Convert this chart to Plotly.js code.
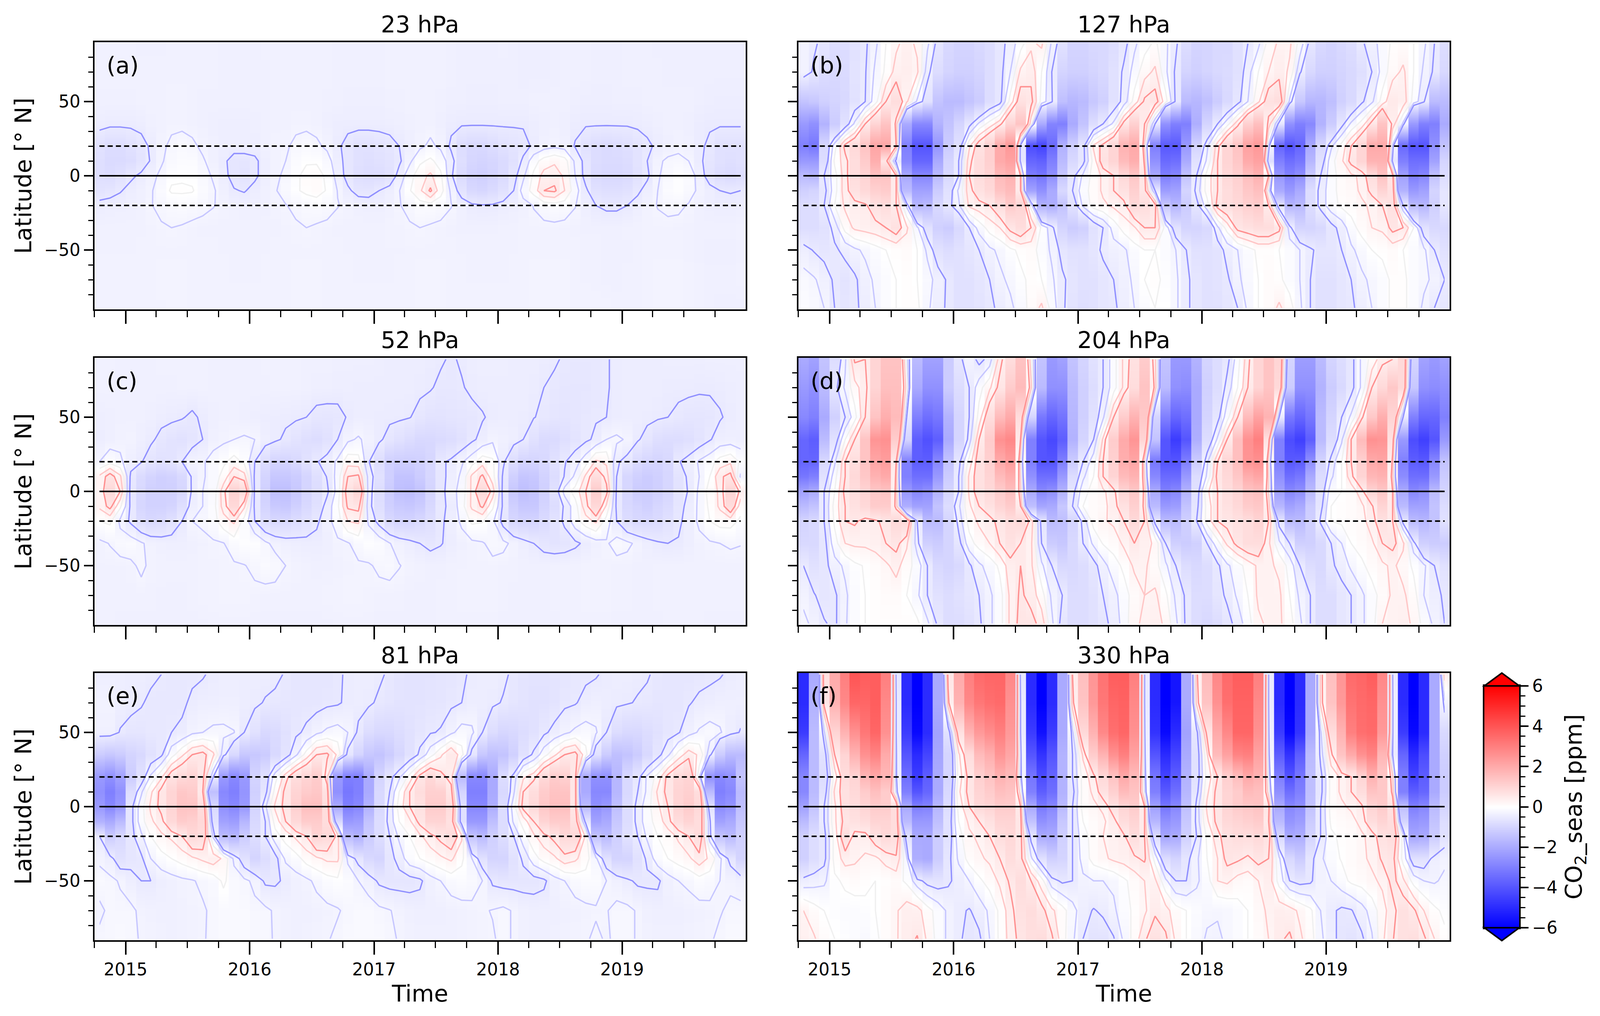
<!DOCTYPE html>
<html><head><meta charset="utf-8">
<script src="https://cdn.plot.ly/plotly-3.0.0.min.js"></script>
<style>html,body{margin:0;padding:0;background:#fff;overflow:hidden}</style></head>
<body><div id="p"></div>
<script>
const months=['2014-10-16','2014-11-16','2014-12-16','2015-01-16','2015-02-16','2015-03-16','2015-04-16','2015-05-16','2015-06-16','2015-07-16','2015-08-16','2015-09-16','2015-10-16','2015-11-16','2015-12-16','2016-01-16','2016-02-16','2016-03-16','2016-04-16','2016-05-16','2016-06-16','2016-07-16','2016-08-16','2016-09-16','2016-10-16','2016-11-16','2016-12-16','2017-01-16','2017-02-16','2017-03-16','2017-04-16','2017-05-16','2017-06-16','2017-07-16','2017-08-16','2017-09-16','2017-10-16','2017-11-16','2017-12-16','2018-01-16','2018-02-16','2018-03-16','2018-04-16','2018-05-16','2018-06-16','2018-07-16','2018-08-16','2018-09-16','2018-10-16','2018-11-16','2018-12-16','2019-01-16','2019-02-16','2019-03-16','2019-04-16','2019-05-16','2019-06-16','2019-07-16','2019-08-16','2019-09-16','2019-10-16','2019-11-16','2019-12-16'];
const latitudes=[89,70,50,35,20,10,0,-10,-20,-35,-50,-70,-89];
const panelTitles=['23 hPa','127 hPa','52 hPa','204 hPa','81 hPa','330 hPa'];
const panelTags=['(a)','(b)','(c)','(d)','(e)','(f)'];
const colorbarLevels=[-6,-5,-4,-3,-2,-1,0,1,2,3,4,5,6];
const hPa23=[
[-.33,-.33,-.33,-.33,-.35,-.35,-.35,-.33,-.33,-.33,-.33,-.33,-.35,-.35,-.35,-.35,-.33,-.33,-.33,-.33,-.33,-.33,-.33,-.35,-.35,-.35,-.35,-.35,-.33,-.33,-.33,-.33,-.33,-.33,-.35,-.38,-.38,-.38,-.38,-.35,-.38,-.4,-.4,-.4,-.38,-.35,-.35,-.35,-.38,-.38,-.38,-.35,-.35,-.35,-.38,-.38,-.38,-.38,-.38,-.38,-.38,-.38,-.38],
[-.33,-.33,-.33,-.33,-.33,-.33,-.33,-.33,-.33,-.33,-.33,-.33,-.35,-.35,-.35,-.35,-.35,-.33,-.33,-.33,-.33,-.33,-.33,-.35,-.35,-.35,-.35,-.35,-.33,-.33,-.33,-.33,-.33,-.33,-.35,-.38,-.38,-.38,-.38,-.38,-.38,-.4,-.4,-.4,-.38,-.35,-.35,-.35,-.38,-.38,-.38,-.35,-.35,-.35,-.35,-.38,-.38,-.38,-.38,-.38,-.38,-.38,-.38],
[-.35,-.35,-.35,-.35,-.33,-.33,-.33,-.3,-.3,-.33,-.35,-.35,-.35,-.35,-.35,-.35,-.35,-.33,-.33,-.33,-.33,-.33,-.35,-.35,-.38,-.38,-.38,-.38,-.35,-.35,-.33,-.33,-.33,-.35,-.38,-.38,-.4,-.4,-.4,-.38,-.38,-.38,-.35,-.35,-.35,-.35,-.38,-.4,-.4,-.4,-.38,-.38,-.38,-.35,-.35,-.35,-.35,-.35,-.38,-.4,-.42,-.42,-.42],
[-.42,-.45,-.45,-.45,-.42,-.35,-.33,-.3,-.3,-.33,-.35,-.38,-.4,-.4,-.4,-.38,-.35,-.33,-.33,-.3,-.3,-.33,-.38,-.42,-.42,-.42,-.42,-.42,-.4,-.38,-.35,-.33,-.33,-.38,-.44,-.47,-.47,-.47,-.47,-.47,-.47,-.47,-.42,-.38,-.35,-.38,-.44,-.47,-.47,-.47,-.47,-.47,-.45,-.42,-.38,-.35,-.35,-.38,-.44,-.47,-.47,-.47,-.47],
[-.7,-.8,-.8,-.7,-.6,-.46,-.3,-.2,-.15,-.2,-.3,-.35,-.4,-.4,-.4,-.4,-.35,-.3,-.28,-.2,-.15,-.2,-.3,-.45,-.6,-.7,-.7,-.65,-.6,-.5,-.4,-.3,-.2,-.3,-.55,-.8,-.9,-.9,-.8,-.7,-.65,-.6,-.45,-.35,-.3,-.35,-.52,-.7,-.8,-.85,-.8,-.75,-.65,-.55,-.45,-.38,-.32,-.35,-.45,-.55,-.7,-.7,-.7],
[-.75,-.85,-.85,-.8,-.65,-.48,-.28,-.15,-.1,-.1,-.22,-.35,-.45,-.6,-.6,-.55,-.4,-.3,-.25,-.1,-.03,-.03,-.15,-.4,-.6,-.7,-.75,-.7,-.65,-.55,-.3,-.05,.05,-.1,-.4,-.75,-.95,-1,-.95,-.85,-.7,-.45,-.1,.1,.2,.1,-.3,-.6,-.8,-.85,-.85,-.8,-.65,-.5,-.3,-.2,-.18,-.25,-.45,-.6,-.7,-.75,-.7],
[-.75,-.8,-.7,-.55,-.45,-.32,-.2,-.05,-.03,-.05,-.15,-.28,-.42,-.6,-.65,-.55,-.4,-.3,-.2,-.05,.08,.1,-.05,-.35,-.6,-.75,-.8,-.8,-.7,-.4,-.1,.15,.3,.05,-.45,-.85,-1.05,-1.1,-1,-.85,-.6,-.3,.05,.35,.4,.2,-.25,-.6,-.85,-.9,-.9,-.85,-.7,-.55,-.28,-.15,-.05,-.1,-.35,-.65,-.8,-.85,-.8],
[-.65,-.6,-.52,-.42,-.35,-.28,-.12,.03,.03,.02,-.12,-.22,-.36,-.48,-.52,-.42,-.35,-.27,-.15,-.03,.05,.1,-.02,-.26,-.45,-.6,-.6,-.5,-.4,-.26,-.02,.2,.55,.1,-.3,-.65,-.9,-.95,-.85,-.7,-.5,-.15,.1,.5,.55,.25,-.15,-.45,-.7,-.75,-.75,-.7,-.55,-.4,-.25,-.1,-.05,-.15,-.3,-.4,-.5,-.52,-.5],
[-.42,-.4,-.38,-.36,-.34,-.26,-.2,-.15,-.12,-.15,-.18,-.24,-.3,-.34,-.36,-.36,-.35,-.3,-.26,-.2,-.14,-.12,-.16,-.24,-.3,-.35,-.38,-.38,-.34,-.26,-.2,-.1,-.1,-.15,-.24,-.35,-.45,-.48,-.47,-.42,-.38,-.34,-.24,-.15,-.1,-.12,-.24,-.38,-.5,-.55,-.55,-.5,-.4,-.32,-.24,-.2,-.2,-.27,-.35,-.4,-.42,-.42,-.4],
[-.33,-.33,-.33,-.33,-.33,-.3,-.27,-.25,-.27,-.3,-.33,-.33,-.33,-.33,-.33,-.33,-.33,-.33,-.3,-.28,-.25,-.28,-.3,-.33,-.33,-.33,-.33,-.33,-.3,-.3,-.27,-.25,-.28,-.3,-.33,-.35,-.35,-.35,-.35,-.33,-.33,-.3,-.3,-.3,-.3,-.32,-.33,-.35,-.35,-.35,-.35,-.33,-.32,-.3,-.3,-.3,-.32,-.33,-.35,-.35,-.35,-.35,-.33],
[-.32,-.32,-.32,-.32,-.3,-.3,-.3,-.3,-.3,-.3,-.3,-.3,-.32,-.32,-.32,-.32,-.32,-.3,-.3,-.3,-.3,-.3,-.3,-.3,-.32,-.32,-.32,-.32,-.32,-.32,-.3,-.3,-.3,-.3,-.3,-.32,-.32,-.32,-.32,-.32,-.32,-.3,-.3,-.3,-.3,-.3,-.3,-.32,-.32,-.35,-.35,-.35,-.32,-.3,-.3,-.3,-.3,-.33,-.35,-.38,-.38,-.38,-.35],
[-.3,-.3,-.3,-.3,-.3,-.3,-.28,-.28,-.28,-.3,-.3,-.3,-.3,-.32,-.32,-.32,-.3,-.3,-.3,-.28,-.28,-.28,-.3,-.3,-.3,-.32,-.32,-.32,-.32,-.3,-.3,-.28,-.28,-.28,-.3,-.3,-.32,-.32,-.32,-.32,-.3,-.3,-.28,-.28,-.28,-.28,-.3,-.32,-.33,-.35,-.35,-.33,-.32,-.3,-.28,-.28,-.28,-.3,-.33,-.35,-.35,-.35,-.33],
[-.3,-.3,-.3,-.3,-.3,-.3,-.3,-.28,-.28,-.3,-.3,-.3,-.3,-.3,-.3,-.3,-.3,-.3,-.3,-.28,-.28,-.28,-.3,-.3,-.3,-.3,-.3,-.3,-.3,-.3,-.3,-.28,-.28,-.28,-.3,-.3,-.3,-.3,-.3,-.3,-.3,-.3,-.28,-.28,-.28,-.28,-.3,-.3,-.3,-.3,-.33,-.33,-.33,-.3,-.28,-.28,-.28,-.3,-.33,-.35,-.38,-.38,-.38]];
const hPa127=[
[-.3,-.45,-.6,-.8,-.8,-.7,-.55,-.3,0,.2,.35,.2,-.2,-.6,-.9,-1,-1,-.9,-.8,-.6,-.4,-.1,.2,.3,-.3,-.7,-1,-1,-.9,-.9,-.8,-.6,-.3,-.1,.05,-.2,-.45,-.8,-1,-1,-.9,-.9,-.7,-.5,-.3,.1,.3,.3,-.1,-.6,-.9,-1,-.9,-.8,-.55,-.35,-.15,.05,.1,0,-.2,-.5,-.8],
[-.3,-.55,-.8,-.9,-.85,-.65,-.52,-.2,.05,.35,.4,.3,-.4,-.8,-1,-1.1,-1.1,-1,-.8,-.6,-.25,.3,.4,0,-.5,-1,-1.1,-1.1,-1,-.9,-.7,-.45,-.15,.15,.3,-.2,-.55,-1,-1.1,-1,-.9,-.85,-.7,-.35,0,.25,.4,.2,-.45,-.9,-1.1,-1.1,-1,-.9,-.75,-.5,-.15,.15,.3,0,-.3,-.55,-.9],
[-1.4,-1.3,-1.1,-1,-.9,-.7,-.5,-.1,.5,.8,.3,-.3,-.7,-1.4,-1.6,-1.6,-1.4,-1.2,-.8,-.6,.1,.7,.6,-.1,-.45,-1.5,-1.7,-1.6,-1.3,-1.1,-.7,-.4,.1,.55,.65,.1,-.55,-1.6,-1.7,-1.5,-1.2,-.9,-.6,-.25,.2,.7,.8,-.3,-1.3,-1.7,-1.7,-1.5,-1.1,-.9,-.55,-.3,.1,.5,.4,-.1,-.45,-1.6,-1.6],
[-2.4,-2.6,-1.8,-1.2,-.7,-.2,.5,1,1.4,.4,-2,-2.8,-2.8,-1.8,-1.4,-1,-.6,-.2,.1,.4,1,1.4,.1,-2,-2.9,-3,-2,-1.4,-.8,-.5,-.2,.6,1.1,.5,-.5,-2.6,-3,-3,-1.9,-1,-.5,-.1,.4,1.1,1.5,.4,-.6,-2.6,-3,-2.8,-1.8,-1.2,-.6,-.2,.1,.6,1.4,.4,-.3,-2.4,-3,-3,-2],
[-3,-3.2,-.9,-.1,.6,.9,1.4,2.1,2.1,.5,-3,-4,-4,-2.5,-1.2,-.7,.2,.7,1.1,2,2.4,-.6,-4.2,-4.4,-3.5,-1.8,-1.1,-.6,.3,.6,1,1.8,2,.2,-3,-3.9,-3.9,-2.4,-1,-.3,.4,1,1.4,2.2,2.4,-.3,-3.6,-4,-3.6,-2,-.9,-.3,.1,.5,1,2,2,-.3,-3.5,-4,-4,-2.6,-1.4],
[-2.4,-2.4,-.8,.05,.4,.8,1.2,1.9,.6,-.6,-2.8,-3.6,-3.6,-2,-1,-.5,.4,.8,1.1,2,2.2,-.6,-3.6,-3.7,-3,-1.6,-.9,-.6,.1,.7,1,1.6,1.9,.4,-2.6,-3.5,-3.4,-2,-.7,-.2,.5,1,1.3,2,2.2,-.8,-3,-3.4,-3.2,-1.7,-.7,-.1,.2,.6,1,1.8,1.8,-.6,-3,-3.4,-3.4,-2.2,-1],
[-1.6,-1.7,-.5,-.1,.4,.8,1,1.4,1.4,.5,-2,-2.8,-2.8,-1.6,-.9,-.5,.5,.8,1,1.6,1.8,.5,-3,-3.2,-2.6,-1.3,-.6,-.2,.1,.3,.5,.9,1.3,.6,-2,-3,-2.8,-1.4,-.5,.1,.5,.9,1.1,1.5,1.8,.5,-2.4,-2.9,-2.6,-1.2,-.5,-.1,.1,.2,.3,.8,1.4,.6,-2.2,-3,-2.8,-1.4,-.8],
[-1.1,-1,-.6,-.1,.4,.7,.9,1.1,1.2,.5,-1.6,-2.2,-2.2,-1.2,-.7,-.2,.4,.7,.9,1.4,1.6,.5,-2.2,-2.6,-2,-.9,-.5,-.1,.1,.3,.5,.7,1.1,.6,-.5,-2.3,-2.2,-1,-.4,.1,.5,.8,1,1.3,1.5,-.1,-2,-2.4,-2,-.8,-.4,-.1,.1,.15,.3,.6,1,.7,-1.8,-2.4,-2.2,-1,-.6],
[-.8,-.8,-.5,0,.3,.4,.45,.7,.8,.5,-.3,-1.7,-1.6,-.9,-.6,-.3,.3,.4,.5,.8,1.2,1,-.1,-1.8,-1.9,-1.4,-.7,-.2,.1,.2,.3,.4,.9,.8,.6,-1.3,-1.7,-1.2,-.6,-.1,.6,.8,.9,1.1,1.2,.5,-.7,-1.7,-1.6,-.8,-.4,-.1,.05,.1,.2,.3,.5,.7,-.5,-1.6,-1.7,-1.1,-.6],
[-.8,-.8,-.7,-.4,.1,.3,.35,.4,.5,.7,.3,-.2,-.7,-1.1,-1.2,-.9,-.5,-.15,.1,.25,.6,.8,.5,-.05,-.4,-1,-1.2,-1.1,-.7,-.5,-.15,.1,.22,.5,.5,-.1,-.7,-1,-1,-.9,-.3,.1,.6,.7,.8,.8,.6,-.4,-1,-1,-.9,-.6,-.4,-.1,.1,.25,.3,.6,.5,0,-.7,-.9,-.9],
[-.4,-.52,-.6,-.55,-.42,-.3,-.2,-.1,0,.05,.1,0,-.3,-.7,-.8,-.7,-.6,-.5,-.3,-.2,-.05,.05,.1,-.1,-.3,-.6,-.7,-.7,-.6,-.45,-.35,-.3,-.1,0,0,-.1,-.25,-.5,-.7,-.7,-.65,-.4,-.25,-.1,.05,.05,0,-.1,-.25,-.45,-.6,-.6,-.5,-.3,-.15,0,.05,.1,0,-.1,-.2,-.5,-.7],
[-.15,-.22,-.35,-.55,-.65,-.55,-.35,-.2,-.1,0,.05,0,-.15,-.35,-.55,-.7,-.7,-.6,-.5,-.3,-.2,-.05,.05,0,-.2,-.45,-.6,-.7,-.7,-.6,-.5,-.35,-.2,0,.05,-.05,-.2,-.45,-.6,-.7,-.65,-.55,-.3,-.15,0,.1,.05,-.1,-.25,-.5,-.7,-.7,-.6,-.5,-.3,-.2,-.1,.05,.05,-.1,-.2,-.3,-.5],
[-.1,-.15,-.25,-.5,-.6,-.55,-.42,-.25,-.1,0,.05,.05,-.2,-.4,-.55,-.7,-.7,-.65,-.55,-.45,-.3,-.15,.1,.3,-.1,-.45,-.65,-.75,-.7,-.6,-.55,-.4,-.25,-.1,0,0,-.2,-.45,-.6,-.7,-.7,-.6,-.5,-.2,0,.1,.3,.1,-.2,-.5,-.7,-.7,-.6,-.55,-.4,-.25,-.1,.05,.05,-.1,-.3,-.5,-.6]];
const hPa52=[
[-.33,-.33,-.35,-.35,-.35,-.35,-.33,-.33,-.33,-.33,-.33,-.35,-.35,-.35,-.35,-.35,-.33,-.33,-.33,-.33,-.35,-.35,-.35,-.38,-.38,-.38,-.38,-.4,-.42,-.42,-.42,-.42,-.45,-.47,-.53,-.47,-.42,-.4,-.4,-.4,-.42,-.42,-.42,-.45,-.47,-.53,-.55,-.55,-.55,-.52,-.45,-.42,-.42,-.42,-.42,-.4,-.4,-.4,-.4,-.38,-.38,-.38,-.38],
[-.33,-.33,-.35,-.35,-.35,-.35,-.35,-.35,-.33,-.33,-.33,-.35,-.35,-.35,-.35,-.35,-.35,-.33,-.33,-.33,-.35,-.38,-.38,-.4,-.4,-.42,-.42,-.42,-.42,-.42,-.42,-.45,-.48,-.55,-.55,-.52,-.45,-.42,-.42,-.42,-.42,-.42,-.45,-.5,-.55,-.58,-.58,-.58,-.55,-.52,-.45,-.42,-.42,-.42,-.42,-.45,-.45,-.45,-.47,-.47,-.45,-.42,-.4],
[-.4,-.38,-.35,-.35,-.36,-.38,-.42,-.45,-.48,-.55,-.45,-.38,-.35,-.35,-.38,-.4,-.42,-.44,-.45,-.47,-.5,-.58,-.6,-.58,-.48,-.42,-.42,-.44,-.45,-.46,-.49,-.58,-.65,-.65,-.62,-.6,-.58,-.52,-.45,-.42,-.42,-.44,-.49,-.55,-.6,-.62,-.58,-.55,-.52,-.5,-.44,-.42,-.42,-.44,-.47,-.5,-.55,-.6,-.6,-.58,-.52,-.45,-.4],
[-.42,-.38,-.32,-.3,-.38,-.45,-.58,-.65,-.7,-.62,-.5,-.35,-.3,-.25,-.22,-.25,-.38,-.45,-.55,-.65,-.75,-.8,-.7,-.5,-.3,-.22,-.32,-.45,-.6,-.7,-.8,-.9,-.9,-.85,-.8,-.7,-.55,-.42,-.3,-.35,-.4,-.5,-.7,-.85,-.85,-.75,-.65,-.55,-.45,-.25,-.2,-.28,-.47,-.6,-.75,-.8,-.8,-.75,-.65,-.52,-.4,-.38,-.4],
[-.25,-.08,-.2,-.4,-.48,-.65,-.7,-.65,-.5,-.3,-.28,-.15,-.05,.1,-.05,-.5,-.8,-1,-1,-.9,-.7,-.52,-.4,-.2,.15,.1,-.48,-.8,-1.1,-1.15,-1.15,-1.1,-.95,-.55,-.45,-.28,-.1,.15,.05,-.45,-.8,-1,-1,-.9,-.7,-.52,-.35,-.1,.3,.2,-.46,-.6,-.85,-.95,-1,-.9,-.52,-.4,-.22,-.1,.1,.2,-.05],
[.3,.65,.3,-.55,-.85,-1,-1.1,-1.05,-.9,-.45,-.28,-.15,.1,.5,.35,-.55,-1,-1.3,-1.3,-1.2,-1,-.75,-.48,-.15,.5,.55,-.35,-.7,-1.1,-1.4,-1.4,-1.2,-.95,-.6,-.4,-.2,.3,.55,.1,-.55,-1.1,-1.35,-1.3,-1.05,-.8,-.48,-.2,.3,.8,.4,-.5,-.95,-1.1,-1.2,-1.1,-.95,-.65,-.45,-.25,0,.45,.6,-.3],
[.25,.9,.5,-.6,-.9,-1.1,-1.1,-1.1,-.95,-.45,-.25,-.15,.4,1.1,.9,-.55,-1.1,-1.5,-1.5,-1.3,-1,-.8,-.55,-.15,.7,1,-.35,-.8,-1.2,-1.5,-1.55,-1.4,-1,-.6,-.35,-.15,.3,.9,.4,-.6,-1.3,-1.5,-1.4,-1.1,-.7,-.15,.1,.5,1.2,.6,-.55,-.95,-1.2,-1.2,-1.1,-.95,-.65,-.48,-.2,.1,.3,1,.4],
[.3,.6,.05,-.55,-.95,-1.05,-1.05,-1,-.75,-.38,-.25,-.1,.35,.9,.3,-.55,-1,-1.25,-1.3,-1.1,-.9,-.7,-.4,-.05,.55,.6,-.4,-.75,-1.1,-1.25,-1.3,-1.2,-.9,-.55,-.45,-.1,.3,.55,.05,-.55,-1.1,-1.3,-1.3,-1,-.8,-.45,-.1,.4,.9,.2,-.55,-.9,-1,-1.1,-.95,-.85,-.6,-.42,-.2,.05,.3,.8,.1],
[0,.05,-.3,-.55,-.8,-.9,-.85,-.7,-.5,-.25,-.2,-.1,.15,.3,-.1,-.5,-.8,-.9,-.9,-.8,-.7,-.55,-.35,-.1,.25,.3,-.3,-.6,-.9,-1,-1,-.9,-.75,-.55,-.4,-.2,.05,.02,-.2,-.6,-.95,-1,-1,-.85,-.65,-.45,-.1,.15,.3,-.1,-.5,-.8,-.9,-.9,-.85,-.7,-.55,-.4,-.2,0,.1,.1,-.05],
[-.3,-.24,-.15,-.12,-.22,-.32,-.36,-.38,-.38,-.35,-.32,-.28,-.26,-.12,-.05,-.05,-.2,-.32,-.38,-.4,-.42,-.42,-.38,-.3,-.27,-.15,-.05,-.1,-.24,-.35,-.42,-.5,-.58,-.52,-.42,-.35,-.3,-.27,-.18,-.2,-.3,-.4,-.5,-.6,-.65,-.62,-.55,-.45,-.35,-.28,-.15,-.2,-.3,-.4,-.47,-.5,-.48,-.4,-.32,-.28,-.25,-.22,-.24],
[-.32,-.32,-.32,-.3,-.2,-.3,-.32,-.33,-.33,-.33,-.3,-.3,-.28,-.28,-.26,-.2,-.12,-.15,-.25,-.3,-.33,-.35,-.35,-.33,-.3,-.28,-.28,-.2,-.17,-.24,-.3,-.33,-.35,-.35,-.33,-.32,-.3,-.3,-.3,-.32,-.33,-.35,-.35,-.35,-.33,-.33,-.32,-.3,-.3,-.3,-.33,-.33,-.35,-.35,-.33,-.33,-.33,-.33,-.33,-.33,-.33,-.33,-.33],
[-.32,-.33,-.33,-.33,-.33,-.33,-.35,-.35,-.35,-.33,-.3,-.3,-.28,-.28,-.28,-.3,-.33,-.33,-.33,-.33,-.33,-.33,-.3,-.3,-.28,-.28,-.3,-.33,-.33,-.33,-.35,-.35,-.35,-.33,-.33,-.3,-.3,-.3,-.3,-.33,-.35,-.35,-.35,-.35,-.33,-.33,-.32,-.3,-.3,-.3,-.33,-.33,-.35,-.35,-.33,-.33,-.33,-.33,-.33,-.33,-.33,-.33,-.33],
[-.33,-.33,-.35,-.35,-.35,-.35,-.35,-.35,-.35,-.35,-.35,-.33,-.33,-.33,-.33,-.33,-.35,-.35,-.35,-.35,-.35,-.35,-.35,-.33,-.33,-.33,-.33,-.35,-.35,-.35,-.35,-.35,-.35,-.33,-.33,-.33,-.33,-.33,-.33,-.35,-.35,-.35,-.35,-.35,-.35,-.33,-.33,-.33,-.33,-.33,-.35,-.35,-.35,-.35,-.35,-.33,-.33,-.33,-.33,-.35,-.35,-.35,-.35]];
const hPa204=[
[-2,-2.2,-1.4,-.8,-.3,.55,.5,1,1.4,1.4,-.1,-1.6,-2.2,-2.2,-1.2,-.6,-.3,-.6,-.4,.4,.8,1.4,.1,-1.4,-2.4,-2.2,-1.4,-1,-.7,-.5,-.1,.3,.7,1.2,.3,-1.4,-2.4,-2.4,-1.8,-1,-.8,-.6,-.1,.4,1,1.4,1,-1,-2.3,-2.3,-1.6,-1,-.8,-.6,-.2,.1,.4,.5,.9,-1,-2.2,-2.4,-2.2],
[-2.4,-2.6,-1.6,-.6,-.2,.15,.4,1,1.5,1.5,.1,-2,-2.6,-2.6,-1.2,-.8,-.5,-.1,.2,.6,1.2,1.6,.3,-1.6,-2.6,-2.6,-1.6,-1.1,-.8,-.5,-.1,.3,.8,1.4,.4,-1.6,-2.6,-2.7,-2,-1.1,-.8,-.4,0,.5,1,1.4,.9,-1.2,-2.6,-2.6,-1.8,-1.2,-.9,-.6,-.2,.5,.9,1.3,.9,-1.3,-2.6,-2.7,-2.6],
[-2.8,-3,-2,-1.1,-.5,-.1,.5,1.4,1.9,1.6,-.5,-3,-3.4,-3.2,-1.8,-1,-.5,.1,.8,1.6,2,.8,-1,-3.2,-3.6,-3.3,-1.7,-1.1,-.7,-.3,.5,1.2,1.8,1.3,-1,-3,-3.6,-3.4,-2,-1,-.6,-.1,.5,1.6,2.2,1.8,-.5,-3.2,-3.6,-3.2,-1.6,-1,-.5,-.2,.4,1.3,1.9,1,-.5,-3,-3.6,-3.6,-3],
[-3.6,-3.8,-1.6,-.7,0,.5,1.4,2.5,2.6,1.2,-1,-3.8,-4.1,-3.8,-2,-1,-.4,.5,1.2,2.6,2.8,.5,-3,-4,-4.3,-3.8,-1.8,-1,-.5,.3,1.2,2,2.5,1,-1.4,-4,-4.6,-4,-1.9,-.8,-.2,.5,1.5,2.6,3,.7,-3,-4.2,-4.5,-3.8,-1.6,-.8,-.3,.5,1.6,2.6,2.5,.7,-2.4,-4.2,-4.5,-4,-2.4],
[-3.6,-3.6,-.9,-.3,.5,.8,1.4,2.1,2.3,.5,-3,-3.8,-3.8,-2.8,-1.4,-.6,.1,.7,1.1,2,2.3,.1,-3,-4,-4,-3,-1.2,-.5,-.1,.5,1.1,1.9,2.1,.1,-3.2,-4,-4,-3,-1.2,-.3,.5,1,1.5,2.5,2.6,.1,-3,-3.9,-3.8,-2.6,-1,-.4,0,.5,1.1,2,2.1,.4,-3,-3.8,-3.9,-2.8,-1.4],
[-3.2,-3,-.7,-.1,.5,.9,1.3,1.8,2,.4,-3,-3.4,-3.4,-2.4,-1.2,-.5,.3,.7,1,1.6,1.9,.2,-2.6,-3.4,-3.4,-2.4,-.8,-.3,0,.5,1,1.6,1.8,.2,-2.8,-3.5,-3.5,-2.4,-.8,-.2,.6,.9,1.3,1.9,2.1,.2,-2.6,-3.4,-3.2,-2,-.8,-.3,0,.4,1,1.7,1.8,.3,-2.7,-3.4,-3.4,-2.4,-1.2],
[-2.2,-2,-.5,0,.6,.8,1,1.3,1.4,.4,-2.4,-2.8,-2.6,-1.8,-1,-.5,.3,.7,.9,1.2,1.5,.3,-2,-2.8,-2.6,-1.8,-.6,-.1,.1,.2,.4,1,1.3,.4,-2,-3,-2.8,-1.8,-.7,.2,.5,.8,1,1.4,1.5,.2,-2.2,-2.8,-2.6,-1.6,-.7,-.1,0,.1,.4,1,1.3,.5,-2,-2.8,-2.6,-1.6,-1],
[-1.6,-1.4,-.5,.1,.5,.7,.9,1.2,1.2,.4,-1.9,-2.2,-2.2,-1.4,-.8,-.3,.2,.5,.7,1,1.2,.5,-1.5,-2.1,-2,-1.3,-.5,0,.1,.15,.4,.7,1.1,.4,-1.6,-2.4,-2.3,-1.4,-.6,.1,.5,.7,.9,1.2,1.3,.4,-1.7,-2.2,-2,-1.2,-.6,0,.05,.1,.2,.45,1,.5,-1.6,-2.2,-2.2,-1.4,-.8],
[-1,-.9,-.5,.05,.5,.55,.4,.45,.6,.9,.9,-.5,-1.6,-1.6,-1,-.4,.1,.3,.4,.6,.8,.9,.4,-.6,-1.6,-1.5,-1,-.4,.1,.22,.3,.5,.9,.5,-.6,-1.6,-1.6,-1.1,-.5,.1,.5,.6,.7,.8,1,.5,-.6,-1.6,-1.6,-1.1,-.45,0,.05,.1,.15,.4,.7,.5,-.6,-1.6,-1.7,-1.4,-.7],
[-.9,-.9,-.6,-.1,.25,.3,.3,.35,.5,.6,.3,-.4,-1.1,-1.2,-1,-.6,-.1,.1,.25,.5,.7,.5,.3,-.5,-1.2,-1.3,-.9,-.5,-.2,.02,.1,.3,.5,.35,.2,-.5,-1.1,-1.2,-1.1,-.5,-.1,.3,.6,.8,.8,.3,-.2,-.5,-1.1,-1.1,-.9,-.5,-.25,0,.1,.2,.5,.6,.3,-.4,-1.1,-1.2,-1.2],
[-.5,-.7,-.6,-.35,-.2,-.05,.02,.1,.2,.35,.1,-.1,-.5,-.9,-1,-.9,-.55,-.3,-.15,.05,.4,.5,.3,-.2,-.5,-.9,-.9,-.8,-.6,-.35,-.1,.05,.3,.3,.1,-.2,-.5,-.8,-.9,-.8,-.55,-.3,-.1,.1,.3,.3,.2,-.1,-.5,-.8,-.9,-.55,-.4,-.2,-.05,.1,.2,.3,.15,-.05,-.2,-.5,-.7],
[-.3,-.48,-.6,-.55,-.3,-.1,0,.05,.1,.1,0,-.2,-.5,-.7,-.8,-.7,-.6,-.5,-.3,-.1,.3,.55,.4,.1,-.3,-.5,-.8,-.8,-.7,-.5,-.35,-.1,.1,.25,.3,.05,-.3,-.55,-.8,-.8,-.6,-.45,-.2,0,.3,.3,.3,0,-.3,-.5,-.8,-.8,-.6,-.5,-.3,-.1,.1,.3,.3,.1,-.25,-.4,-.55],
[-.2,-.3,-.48,-.55,-.28,-.1,0,.05,.05,.05,.05,.05,-.2,-.55,-.8,-.8,-.7,-.55,-.3,-.1,.3,.6,.6,.4,-.2,-.6,-.8,-.8,-.7,-.6,-.4,-.15,.2,.3,.35,.2,-.2,-.55,-.8,-.9,-.8,-.6,-.4,-.1,.2,.3,.3,.1,-.2,-.5,-.8,-.8,-.6,-.5,-.3,-.1,.25,.3,.35,.2,-.1,-.3,-.5]];
const hPa81=[
[-.4,-.4,-.4,-.42,-.42,-.45,-.5,-.55,-.55,-.55,-.52,-.45,-.42,-.42,-.42,-.42,-.42,-.45,-.52,-.6,-.6,-.6,-.6,-.55,-.45,-.42,-.42,-.45,-.55,-.62,-.65,-.65,-.65,-.62,-.6,-.55,-.45,-.42,-.42,-.45,-.55,-.62,-.65,-.65,-.62,-.6,-.55,-.55,-.52,-.45,-.42,-.42,-.45,-.48,-.55,-.6,-.6,-.6,-.58,-.55,-.52,-.45,-.42],
[-.3,-.3,-.38,-.42,-.48,-.55,-.55,-.55,-.55,-.45,-.4,-.4,-.38,-.38,-.42,-.45,-.52,-.55,-.58,-.6,-.6,-.6,-.55,-.53,-.45,-.42,-.45,-.55,-.6,-.65,-.65,-.65,-.62,-.6,-.55,-.5,-.42,-.42,-.45,-.52,-.6,-.65,-.7,-.7,-.65,-.55,-.52,-.42,-.38,-.42,-.45,-.48,-.52,-.55,-.6,-.6,-.6,-.52,-.45,-.42,-.38,-.38,-.38],
[-.35,-.35,-.52,-.6,-.6,-.55,-.53,-.5,-.45,-.3,-.25,-.2,-.2,-.24,-.5,-.7,-.9,-.85,-.7,-.55,-.45,-.3,-.2,-.15,-.25,-.55,-.8,-.9,-.9,-.8,-.7,-.6,-.52,-.48,-.3,-.15,-.2,-.5,-.8,-.95,-.9,-.8,-.7,-.55,-.42,-.3,-.2,-.15,-.22,-.5,-.8,-.9,-.9,-.8,-.7,-.6,-.52,-.35,-.22,-.15,-.22,-.4,-.52],
[-1.2,-1.3,-1.2,-1,-.9,-.7,-.55,-.1,.2,.5,.6,.3,-.4,-.9,-1.3,-1.3,-1.2,-.9,-.65,-.3,.1,.5,.55,.2,-.6,-1,-1.3,-1.4,-1.2,-.95,-.7,-.45,-.1,.2,.5,.1,-.6,-1.3,-1.5,-1.4,-1.1,-.7,-.45,-.1,.2,.5,.6,.1,-.7,-1.2,-1.5,-1.4,-1.2,-.9,-.6,-.3,.1,.4,.2,-.4,-1.2,-1.6,-1.6],
[-2.4,-2.6,-2.2,-1.2,-.7,-.2,.2,.7,.9,1,.6,-.5,-2.4,-2.8,-2.4,-1,-.7,-.1,.4,.8,1,1.2,.3,-2.4,-3,-3,-2,-1,-.6,-.3,.1,.6,.9,.6,.4,-1.6,-2.8,-2.8,-2,-.8,-.4,.2,.4,.9,1.2,1.1,.6,-2,-2.6,-2.6,-1.7,-.9,-.6,-.2,.1,.6,.9,1,-.2,-2.6,-2.8,-2.6,-1.4],
[-2.6,-3,-2.6,-.8,-.3,.2,.6,1,1.3,1.2,.5,-1.5,-2.8,-3,-2.5,-1.1,-.6,.1,.6,1,1.2,1.3,.7,-2.6,-3.2,-3,-2,-.9,-.5,0,.5,.8,1.1,1.1,.6,-1,-3,-3,-2,-.9,-.3,.5,.8,1.2,1.4,1.4,.6,-2,-2.8,-2.8,-1.7,-.9,-.5,-.2,.3,.6,1,1.1,.8,-1.6,-3,-2.8,-1.6],
[-2.4,-2.8,-2.4,-.6,-.1,.3,.6,1,1.4,1.4,.8,-.9,-2.6,-2.8,-2.4,-1,-.3,.3,.6,1.1,1.5,1.5,.8,-2,-3,-2.8,-1.8,-.9,-.4,.1,.5,.7,1.2,1.2,.8,-.7,-2.8,-2.8,-1.9,-.8,-.1,.6,.9,1.3,1.5,1.5,.6,-1.6,-2.6,-2.4,-1.5,-.8,-.4,-.1,.2,.5,1,1.2,.9,-.7,-2.7,-2.5,-1.5],
[-1.8,-2,-1.6,-.6,-.1,.2,.4,.9,1.2,1.1,.9,-.7,-2.2,-2.3,-1.7,-.9,-.5,.1,.5,.9,1.2,1.2,.8,-.9,-2.4,-2.3,-1.4,-.8,-.4,0,.2,.6,1,1,.7,-.7,-2.4,-2.4,-1.5,-.8,-.2,.1,.5,1,1.2,1.2,.7,-.6,-2.2,-2,-1.3,-.8,-.4,-.1,.1,.4,.8,1,.8,-.4,-2.2,-2,-1.3],
[-.5,-1.2,-.9,-.6,-.3,0,.2,.3,.5,.9,.8,-.3,-1.6,-1.7,-1.2,-.8,-.5,-.1,.1,.3,.5,1,.9,.4,-1.6,-1.8,-1.2,-.8,-.5,-.2,0,.2,.4,.6,.8,.3,-1.4,-1.6,-1.1,-.8,-.5,-.1,.2,.4,.6,.9,.9,.2,-1.4,-1.6,-1.1,-.7,-.5,-.2,0,.1,.3,.5,.8,-.4,-1.4,-1.6,-1.1],
[-.3,-.4,-.7,-.6,-.55,-.25,-.1,0,.1,.2,.3,.4,.2,-.3,-.7,-1,-.8,-.6,-.2,-.1,.1,.2,.3,.3,-.3,-.6,-.9,-1,-.6,-.4,-.1,0,.1,.2,.3,.05,-.25,-.7,-1,-1,-.7,-.45,-.1,.1,.2,.4,.3,.1,-.2,-.7,-1,-1,-.7,-.45,-.1,0,.1,.2,.4,.2,-.2,-.6,-1],
[-.15,-.2,-.27,-.4,-.5,-.5,-.4,-.35,-.3,-.27,-.2,-.15,.05,-.15,-.2,-.3,-.55,-.55,-.45,-.35,-.3,-.2,-.1,-.05,-.1,-.25,-.35,-.55,-.6,-.6,-.6,-.55,-.35,-.25,-.15,-.1,-.15,-.25,-.55,-.6,-.6,-.6,-.6,-.55,-.35,-.25,-.15,-.1,-.1,-.25,-.35,-.45,-.55,-.55,-.55,-.35,-.25,-.2,-.1,-.15,-.25,-.3,-.35],
[-.3,-.2,-.2,-.2,-.3,-.33,-.35,-.35,-.33,-.3,-.28,-.2,-.15,-.15,-.15,-.2,-.2,-.28,-.33,-.35,-.35,-.33,-.3,-.27,-.2,-.15,-.15,-.2,-.24,-.3,-.35,-.38,-.38,-.38,-.35,-.33,-.3,-.27,-.24,-.2,-.27,-.35,-.38,-.38,-.38,-.35,-.33,-.3,-.28,-.26,-.2,-.2,-.27,-.35,-.38,-.38,-.38,-.35,-.33,-.3,-.27,-.2,-.2],
[-.2,-.2,-.15,-.2,-.27,-.3,-.33,-.35,-.33,-.3,-.27,-.2,-.15,-.15,-.15,-.2,-.2,-.27,-.33,-.35,-.33,-.3,-.27,-.2,-.15,-.15,-.15,-.15,-.2,-.27,-.33,-.35,-.35,-.35,-.35,-.33,-.3,-.28,-.27,-.2,-.27,-.35,-.38,-.38,-.35,-.33,-.3,-.28,-.2,-.28,-.2,-.2,-.27,-.33,-.35,-.35,-.35,-.33,-.3,-.28,-.2,-.15,-.15]];
const hPa330=[
[-5,-2,.7,2,3,4,3.8,3.8,3,-.6,-5,-6,-5,-2,.6,2,3,3.5,3.6,3.6,2.8,-.6,-5,-6,-5,-2,.5,1.5,2.5,3.3,3.8,3.8,3,-.5,-5,-6,-5.5,-2,.4,1.6,2.8,3.5,3.8,3.8,3,-.5,-5,-6,-5,-2,.3,1.5,2.5,3.5,3.6,3.8,2.8,-.5,-5,-6,-5,-2,.4],
[-5,-1.8,.6,1.8,2.8,3.6,3.6,3.8,2.8,-.5,-5,-6,-5,-2,.4,1.8,2.8,3.2,3.4,3.5,2.6,-.5,-5,-6,-5,-2,.4,1.4,2.4,3.2,3.6,3.7,2.8,-.5,-5,-6,-5.5,-2,.3,1.4,2.6,3.4,3.7,3.7,2.8,-.5,-5,-6,-5,-2,.3,1.4,2.4,3.3,3.5,3.6,2.6,-.4,-5,-6,-5,-2,-.3],
[-4.6,-1.6,-.3,1,1.8,2.6,3.2,3.6,2.6,-.5,-4.6,-5.8,-5,-2.2,-.7,.7,1.8,2.4,2.7,3,2.4,-.5,-4.6,-5.6,-4.6,-2,-.3,.9,1.8,2.8,3.4,3.6,2.6,-.4,-4.8,-5.8,-5,-2.2,-.6,.6,2,2.8,3.6,3.6,2.6,-.4,-4.6,-5.8,-4.8,-2,-.3,.8,1.8,3,3.4,3.5,2.4,-.4,-4.6,-5.8,-5,-2,-.9],
[-3.6,-1.6,-.7,.5,1,1.8,2.6,2.9,2,-.4,-4,-5,-4.4,-2.1,-1,.2,.8,1.6,1.9,2.5,2.1,-.3,-4,-4.8,-4,-1.8,-.5,.3,1.2,1.8,2.6,3,2.2,-.3,-4,-5,-4.4,-2,-.7,.2,1.6,2.2,2.9,3,2.2,-.3,-3.8,-4.8,-3.8,-1.6,-.4,.4,1.4,2,2.6,2.9,1.7,-.5,-3.6,-5,-4.2,-2,-1.1],
[-2.8,-1.6,-.8,.1,.8,1,1.7,2,1.7,-.4,-3.4,-4.6,-3.8,-2,-1,.1,.6,1.1,1.4,1.8,1.6,-.3,-3.2,-4.2,-3.6,-1.8,-.5,.1,.4,.9,1.4,2,1.6,-.2,-3.2,-4.4,-3.8,-1.8,-.7,.1,.5,1.1,1.5,2,1.8,-.1,-3,-4,-3.2,-1.5,-.6,.1,.3,.5,1,1.8,1.3,.3,-3,-4.4,-3.8,-2,-1.2],
[-2.8,-1.6,-.7,.3,.7,.9,1.2,1.5,1.2,-.2,-3,-4,-3.6,-2,-.9,.2,.6,1,1.2,1.5,1.4,.1,-3,-3.8,-3.4,-1.8,-.6,.1,.3,.7,1.1,1.6,1.4,-.1,-3,-3.9,-3.4,-1.7,-.6,.2,.6,1,1.2,1.6,1.5,.1,-2.6,-3.4,-3,-1.5,-.6,.1,.3,.5,.8,1.4,1.3,.4,-3,-3.8,-3.6,-2,-1.2],
[-2.2,-1.4,-.5,.2,.7,.8,1,1.2,1.2,.8,-2,-3,-2.9,-1.7,-.8,.1,.5,.9,1,1.2,1.2,.5,-2,-3.1,-2.8,-1.6,-.5,.1,.2,.3,.7,1,1.2,.5,-2.2,-3.2,-2.8,-1.5,-.4,.3,.6,1,1.2,1.3,1.4,.6,-2,-2.8,-2.6,-1.4,-.5,.1,.2,.3,.45,1,1.2,.7,-1.5,-3,-2.8,-1.6,-1],
[-1.6,-1.1,-.5,.2,.6,.7,.8,1,1,.8,-1.6,-2.4,-2.4,-1.5,-.7,0,.3,.5,.7,1,1,.6,-1.4,-2.6,-2.4,-1.3,-.5,0,.1,.2,.4,.8,1,.5,-1.7,-2.6,-2.4,-1.3,-.4,.2,.6,.9,1,1.1,1.2,.5,-1.6,-2.5,-2.3,-1.2,-.5,.05,.1,.15,.35,.8,1,.8,-1,-2.5,-2.4,-1.4,-.8],
[-1.1,-.8,-.6,.1,.8,.4,.4,.7,.9,.8,-.7,-2,-2,-1.2,-.7,-.1,.2,.3,.5,.8,.9,.6,-.6,-2,-2,-1.1,-.5,-.1,.1,.25,.35,.45,.8,.5,-.8,-2.1,-2,-1.1,-.5,.05,.4,.7,.8,.8,.9,.7,-.9,-2,-1.9,-1,-.5,-.05,.05,.1,.2,.35,.7,.8,-.1,-2.1,-2,-1.2,-.7],
[-1.1,-.8,-.6,.1,.35,.3,.2,.2,.35,.45,-.2,-1.9,-2,-1.2,-.6,-.2,.1,.2,.3,.5,.8,.6,-.2,-.7,-1.1,-1,-.5,-.15,.1,.2,.3,.35,.45,.55,-.1,-.8,-1,-.6,-.3,0,.25,.6,.55,.45,.6,.5,-.2,-.9,-1.2,-.6,-.3,-.1,.02,.1,.2,.3,.55,.6,-.1,-.7,-.7,-.4,-.3],
[-.4,-.35,-.3,-.05,.05,.1,.05,0,.05,.1,-.05,-.4,-.6,-.65,-.55,-.4,-.25,-.05,.1,.3,.55,.8,.5,.1,-.4,-.55,-.5,-.3,-.25,-.25,-.2,-.05,.1,.25,.3,-.2,-.5,-.5,-.3,-.1,.25,.3,.15,.1,.25,.4,-.1,-.5,-.6,-.55,-.3,-.25,-.1,.05,.1,.2,.3,.6,.3,-.1,-.25,-.28,-.2],
[.25,.1,0,-.05,-.1,-.1,-.05,0,.1,.22,.38,.35,.1,-.1,-.3,-.45,-.52,-.4,-.2,.05,.4,.7,.8,.6,.3,.1,-.15,-.4,-.52,-.45,-.3,-.1,.05,.2,.45,.35,.1,0,-.1,-.2,-.22,-.2,-.1,0,.15,.3,.4,.35,.2,.05,-.25,-.45,-.55,-.52,-.35,-.15,.15,.4,.7,.55,.25,.05,-.05],
[.35,.28,.1,0,-.05,-.1,-.15,-.05,.1,.22,.4,.52,.2,-.1,-.3,-.45,-.6,-.55,-.25,.05,.35,.6,.75,.8,.55,.1,-.2,-.5,-.65,-.65,-.52,-.2,.1,.45,.7,.55,.2,0,-.15,-.28,-.3,-.2,-.1,0,.1,.25,.45,.55,.3,.1,-.2,-.4,-.6,-.65,-.55,-.28,.2,.48,.7,.75,.55,.25,.05]];
const panels=[hPa23,hPa127,hPa52,hPa204,hPa81,hPa330];
// the layout is measured on the reference (4205 wide) and kept as fractions; the browser's real window may be narrower
const W=4205,H=2601;
const pageWidth=Math.min(W,window.innerWidth||W);
const cols=[[248,1960],[2098,3810]];
const rows=[[108,792],[916,1600],[1723,2407]];
const px=x=>x/W, py=y=>1-y/H;
const blueRed=[[0,'#0000ff'],[.5,'#ffffff'],[1,'#ff0000']];
const lineScale=[[0,'#8f8fff'],[.25,'#c6c6ff'],[.5,'#f0f0f0'],[.75,'#ffc6c6'],[1,'#ff8f8f']];
const latUp=latitudes.slice().reverse();
const first=months[0],last=months[months.length-1];
// each monthly value is held flat across its calendar month, so the colour columns are month-wide like the original cells
const stamp=ms=>new Date(ms).toISOString().slice(0,19).replace('T',' ');
const monthEdges=months.flatMap(m=>{const y=+m.slice(0,4),o=+m.slice(5,7)-1;return [stamp(Date.UTC(y,o,1)),stamp(Date.UTC(y,o+1,1)-3600000)];});
const traces=[],layout={width:pageWidth,height:H,margin:{l:0,r:0,t:0,b:0},paper_bgcolor:'#fff',plot_bgcolor:'#fff',showlegend:false,
 font:{family:'DejaVu Sans',color:'#000',size:44},annotations:[],shapes:[]};
panels.forEach((z,k)=>{
 const n=k+1,c=k%2,r=Math.floor(k/2),xn='x'+(n===1?'':n),yn='y'+(n===1?'':n);
 const zUp=z.slice().reverse();
 traces.push({type:'heatmap',x:monthEdges,y:latUp,z:zUp.map(row=>row.flatMap(v=>[v,v])),zmin:-6,zmax:6,colorscale:blueRed,showscale:false,zsmooth:'best',xaxis:xn,yaxis:yn,hoverinfo:'skip'});
 traces.push({type:'contour',x:months,y:latUp,z:zUp,autocontour:false,contours:{start:-.5,end:.5,size:.25,coloring:'lines'},colorscale:lineScale,zmin:-.5,zmax:.5,showscale:false,line:{width:3.4,smoothing:0},xaxis:xn,yaxis:yn,hoverinfo:'skip'});
 [[20,'13px,8px'],[-20,'13px,8px'],[0,'solid']].forEach(([v,d])=>traces.push({type:'scatter',mode:'lines',x:[first,last],y:[v,v],line:{color:'#000',width:4.2,dash:d},xaxis:xn,yaxis:yn,hoverinfo:'skip'}));
 const xa={domain:[px(cols[c][0]),px(cols[c][1])],anchor:yn,type:'date',range:['2014-10-01','2019-12-31'],dtick:'M12',tick0:'2015-01-01',tickformat:'%Y',ticks:'outside',ticklen:33,tickwidth:4,tickcolor:'#000',
  minor:{dtick:'M3',tick0:'2015-01-01',ticks:'outside',ticklen:16,tickwidth:3,tickcolor:'#000',showgrid:false},
  showticklabels:r===2,showgrid:false,zeroline:false,showline:true,mirror:true,linewidth:4,linecolor:'#000',tickfont:{size:44,family:'DejaVu Sans'}};
 if(r===2) xa.title={text:'Time',font:{size:59,family:'DejaVu Sans'},standoff:18};
 const ya={domain:[py(rows[r][1]),py(rows[r][0])],anchor:xn,range:[-90,90],tickvals:[-50,0,50],ticks:'outside',ticklen:23,tickwidth:4,tickcolor:'#000',
  minor:{tickvals:[-80,-70,-60,-40,-30,-20,-10,10,20,30,40,60,70,80],ticks:'outside',ticklen:12,tickwidth:3,tickcolor:'#000',showgrid:false},
  showticklabels:c===0,showgrid:false,zeroline:false,showline:true,mirror:true,linewidth:4,linecolor:'#000',tickfont:{size:44,family:'DejaVu Sans'}};
 if(c===0) ya.title={text:'Latitude [° N]',font:{size:59,family:'DejaVu Sans'},standoff:14};
 layout['xaxis'+(n===1?'':n)]=xa; layout['yaxis'+(n===1?'':n)]=ya;
 layout.annotations.push({text:panelTitles[k],xref:'paper',yref:'paper',x:px((cols[c][0]+cols[c][1])/2),y:py(rows[r][0]-9),xanchor:'center',yanchor:'bottom',showarrow:false,font:{size:59,family:'DejaVu Sans'}});
 layout.annotations.push({text:panelTags[k],xref:'paper',yref:'paper',x:px(cols[c][0]+30),y:py(rows[r][0]+59),xanchor:'left',yanchor:'middle',showarrow:false,font:{size:59,family:'DejaVu Sans'}});
});
traces.push({type:'heatmap',x:[0,1],y:colorbarLevels,z:colorbarLevels.map(v=>[v,v]),zmin:-6,zmax:6,colorscale:blueRed,showscale:false,zsmooth:'best',xaxis:'x7',yaxis:'y7',hoverinfo:'skip'});
layout.xaxis7={domain:[px(3901),px(3993)],anchor:'y7',range:[0,1],showticklabels:false,ticks:'',showgrid:false,zeroline:false,showline:true,mirror:true,linewidth:4,linecolor:'#000'};
layout.yaxis7={domain:[py(2375),py(1756)],anchor:'x7',side:'right',range:[-6,6],dtick:2,tick0:-6,ticks:'outside',ticklen:20,tickwidth:4,tickcolor:'#000',
 minor:{dtick:.5,tick0:-6,ticks:'outside',ticklen:12,tickwidth:3,tickcolor:'#000',showgrid:false},showgrid:false,zeroline:false,showline:true,mirror:true,linewidth:4,linecolor:'#000',tickfont:{size:44,family:'DejaVu Sans'}};
layout.annotations.push({text:'CO<sub>2</sub>_seas [ppm]',xref:'paper',yref:'paper',x:px(4139),y:py(2065),xanchor:'center',yanchor:'middle',textangle:-90,showarrow:false,font:{size:59,family:'DejaVu Sans'}});
layout.shapes.push({type:'path',xref:'paper',yref:'paper',path:`M ${px(3901)} ${py(1756)} L ${px(3947)} ${py(1723)} L ${px(3993)} ${py(1756)} Z`,fillcolor:'#ff0000',line:{color:'#000',width:4}});
layout.shapes.push({type:'path',xref:'paper',yref:'paper',path:`M ${px(3901)} ${py(2375)} L ${px(3947)} ${py(2408)} L ${px(3993)} ${py(2375)} Z`,fillcolor:'#0000ff',line:{color:'#000',width:4}});
Plotly.newPlot('p',traces,layout,{staticPlot:true});
</script></body></html>
